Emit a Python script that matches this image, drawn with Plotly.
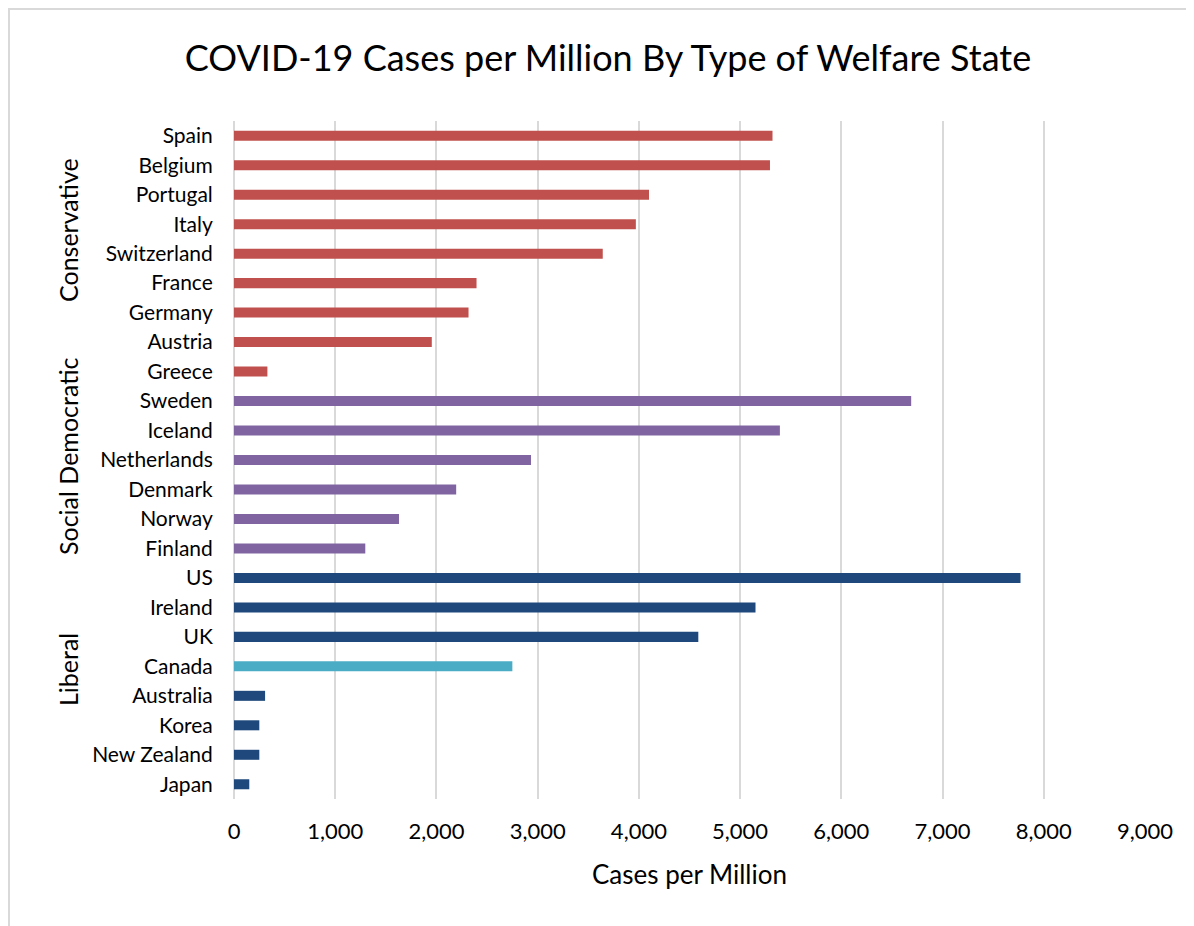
import plotly.graph_objects as go

countries = ["Spain", "Belgium", "Portugal", "Italy", "Switzerland", "France", "Germany",
             "Austria", "Greece", "Sweden", "Iceland", "Netherlands", "Denmark", "Norway",
             "Finland", "US", "Ireland", "UK", "Canada", "Australia", "Korea",
             "New Zealand", "Japan"]
cases = [5320, 5295, 4100, 3970, 3643, 2396, 2317, 1954, 330, 6690, 5393, 2934, 2195,
         1630, 1297, 7770, 5152, 4587, 2750, 307, 250, 250, 151]
groups = ["Conservative"] * 9 + ["Social Democratic"] * 6 + ["Liberal"] * 8
highlight = ["Canada"]

group_colors = {"Conservative": "#C0504D", "Social Democratic": "#8064A2", "Liberal": "#1F497D"}
highlight_color = "#4BACC6"
bar_colors = [highlight_color if c in highlight else group_colors[g] for c, g in zip(countries, groups)]

FONT = "Lato"
OFF = 8  # page body margin
W, H = 1194 - OFF, 926 - OFF
ML, MT = 234 - OFF, 121 - OFF
PR, PB = 1145 - OFF, 799 - OFF
MR, MB = W - PR, H - PB
PW, PH = PR - ML, PB - MT

fig = go.Figure(go.Bar(
    y=countries, x=cases, orientation="h",
    marker=dict(color=bar_colors, line=dict(width=0)),
    hoverinfo="x+y",
))

group_label_pos = {"Conservative": 230, "Social Democratic": 456, "Liberal": 670}
annotations = []
for g, ypx in group_label_pos.items():
    annotations.append(dict(
        text=g, xref="paper", yref="paper",
        x=(68 - OFF - ML) / PW, y=1 - (ypx - OFF - MT) / PH,
        xanchor="center", yanchor="middle", textangle=-90, showarrow=False,
        font=dict(family=FONT, size=25, color="#000000"),
    ))

fig.update_layout(
    width=W, height=H,
    margin=dict(l=ML, r=MR, t=MT, b=MB, pad=0),
    paper_bgcolor="white", plot_bgcolor="white",
    title=dict(text="COVID-19 Cases per Million By Type of Welfare State",
               x=(608 - OFF) / W, xanchor="center",
               y=1 - (58 - OFF) / H, yanchor="middle",
               font=dict(family=FONT, size=36, color="#000000")),
    bargap=0.66,
    showlegend=False,
    annotations=annotations,
    shapes=[dict(type="rect", xref="paper", yref="paper",
                 x0=(1 - ML) / PW, x1=1.3, y0=-0.4, y1=1 + (MT - 1) / PH,
                 line=dict(color="#D9D9D9", width=2), fillcolor="rgba(0,0,0,0)", layer="below")],
    xaxis=dict(range=[0, 9000], tickvals=[0, 1000, 2000, 3000, 4000, 5000, 6000, 7000, 8000, 9000],
               tickformat=",d", showgrid=True, gridcolor="#D9D9D9", gridwidth=2,
               zeroline=True, zerolinecolor="#D9D9D9", zerolinewidth=2,
               showline=False, ticks="outside", ticklen=13, tickcolor="rgba(0,0,0,0)",
               tickfont=dict(family=FONT, size=22, color="#000000"),
               title=dict(text="Cases per Million", standoff=22,
                          font=dict(family=FONT, size=26, color="#000000"))),
    yaxis=dict(autorange="reversed", showgrid=False, showline=False,
               ticks="outside", ticklen=16, tickcolor="rgba(0,0,0,0)",
               tickfont=dict(family=FONT, size=21, color="#000000")),
)

fig.write_html("out.html")
